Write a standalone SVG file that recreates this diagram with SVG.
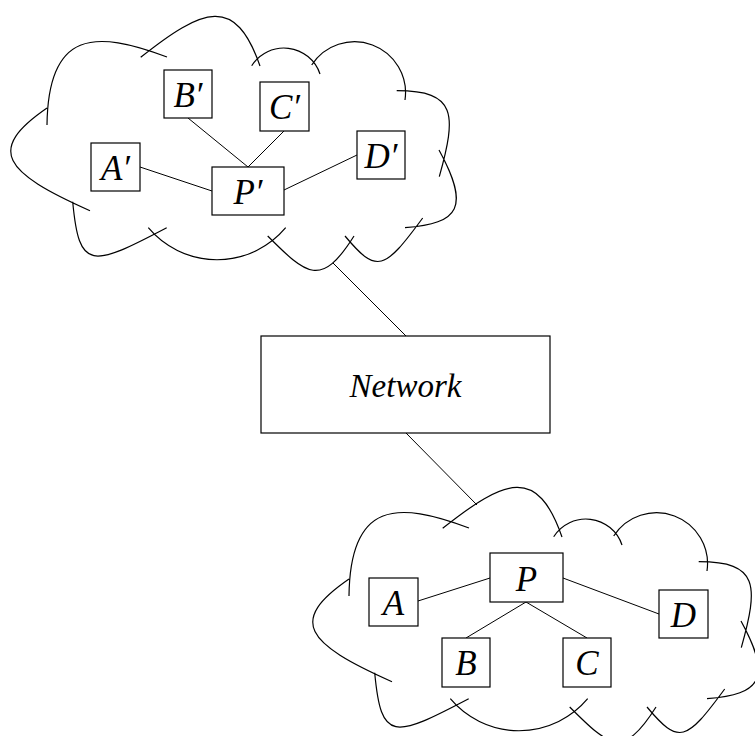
<svg xmlns="http://www.w3.org/2000/svg" width="755" height="736" viewBox="0 0 755 736">
<style>
.box{fill:#fff;stroke:#000;stroke-width:1.2}
.ln{stroke:#000;stroke-width:1;fill:none}
.cloud{fill:none;stroke:#000;stroke-width:1.2}
.lbl{font-family:"Liberation Serif","DejaVu Serif",serif;font-style:italic;font-size:35px;text-anchor:middle;fill:#000}
.net{font-size:33px}
</style>
<defs>
<path id="cloudShape" class="cloud" d="M47,125 C48,30 95,30 167,57 M140.7,57.3 C203.4,7.6 235.4,-4.9 260,66 M251.7,65.7 A38.1,38.1 0 0 1 320,74 M311.7,65 A51,51 0 0 1 405,100 M396.7,90.7 C456.7,90.7 456.7,114 439.3,176.7 M439,150 C470.2,207 459.8,223.5 405,227.7 M422.7,218 C384.2,270.3 377,274.4 345,236 M354,236 C321,288.5 306.6,274.9 267.7,236 M285.7,227.7 A89.7,89.7 0 0 1 148.3,227.7 M166.7,227.7 C91.5,267.2 79.1,271.4 72.7,201.7 M90,210.7 C3,172 -14,150 47,108"/>
</defs>
<rect width="755" height="736" fill="#fff"/>
<g id="cloud-top"><use href="#cloudShape"/></g>
<g id="cloud-bottom"><use href="#cloudShape" transform="translate(302,471)"/></g>
<g id="connectors" class="ln">
<line x1="140" y1="167" x2="212" y2="191"/>
<line x1="188" y1="118" x2="248" y2="167"/>
<line x1="284" y1="131" x2="248" y2="167"/>
<line x1="357" y1="155" x2="284" y2="190"/>
<line x1="333" y1="263" x2="406" y2="336"/>
<line x1="406" y1="433" x2="477" y2="505"/>
<line x1="418" y1="601" x2="490" y2="578"/>
<line x1="526" y1="602" x2="466" y2="638"/>
<line x1="526" y1="602" x2="587" y2="638"/>
<line x1="563" y1="578" x2="659" y2="614"/>
</g>
<g id="node-Ap"><rect class="box" x="91" y="143" width="49" height="48"/><text class="lbl" x="115.5" y="179.5">A′</text></g>
<g id="node-Bp"><rect class="box" x="164" y="70" width="48" height="48"/><text class="lbl" x="188" y="106.5">B′</text></g>
<g id="node-Cp"><rect class="box" x="260" y="82" width="49" height="49"/><text class="lbl" x="284.5" y="119">C′</text></g>
<g id="node-Dp"><rect class="box" x="357" y="131" width="48" height="48"/><text class="lbl" x="381" y="167.5">D′</text></g>
<g id="node-Pp"><rect class="box" x="212" y="167" width="72" height="48"/><text class="lbl" x="248" y="203.5">P′</text></g>
<g id="node-Network"><rect class="box" x="261" y="336" width="289" height="97"/><text class="lbl net" x="405.5" y="396.5">Network</text></g>
<g id="node-P"><rect class="box" x="490" y="553" width="73" height="49"/><text class="lbl" x="526.5" y="590.5">P</text></g>
<g id="node-A"><rect class="box" x="369" y="578" width="49" height="48"/><text class="lbl" x="393.5" y="614.5">A</text></g>
<g id="node-B"><rect class="box" x="442" y="638" width="48" height="49"/><text class="lbl" x="466" y="675">B</text></g>
<g id="node-C"><rect class="box" x="563" y="638" width="48" height="49"/><text class="lbl" x="587" y="675">C</text></g>
<g id="node-D"><rect class="box" x="659" y="590" width="49" height="48"/><text class="lbl" x="683.5" y="626.5">D</text></g>
</svg>
